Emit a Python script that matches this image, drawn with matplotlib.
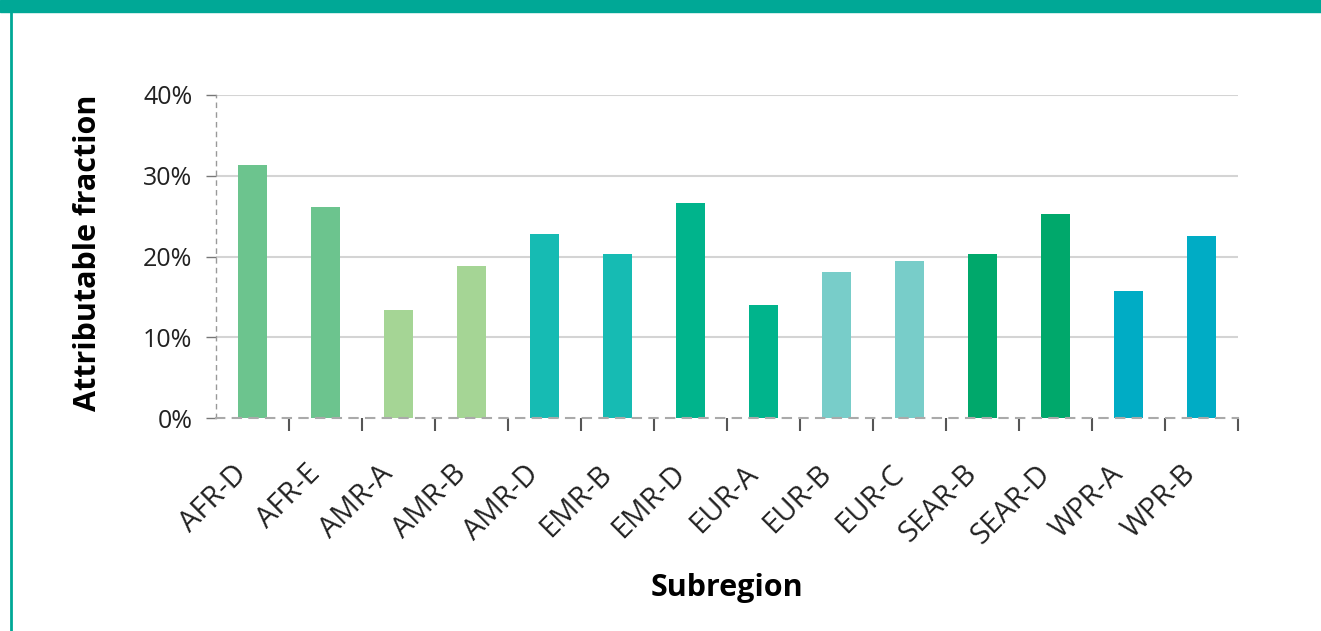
import numpy as np
import matplotlib.pyplot as plt
from matplotlib.patches import Rectangle
from matplotlib.lines import Line2D
from matplotlib.transforms import ScaledTranslation

regions = ['AFR-D', 'AFR-E', 'AMR-A', 'AMR-B', 'AMR-D', 'EMR-B', 'EMR-D',
           'EUR-A', 'EUR-B', 'EUR-C', 'SEAR-B', 'SEAR-D', 'WPR-A', 'WPR-B']
fraction = [31.3, 26.1, 13.4, 18.8, 22.8, 20.3, 26.6,
            14.0, 18.1, 19.4, 20.3, 25.3, 15.7, 22.5]
colors = ['#6cc48e', '#6cc48e', '#a5d595', '#a5d595', '#16bbb3', '#16bbb3', '#00b48c',
          '#00b48c', '#78cdc9', '#78cdc9', '#00a86b', '#00a86b', '#00acc5', '#00acc5']
yticks = [0, 10, 20, 30, 40]

plt.rcParams['font.family'] = ['Open Sans', 'DejaVu Sans']

fig = plt.figure(figsize=(13.21, 6.31), dpi=100)
# frame decoration: teal band on top and thin teal line on the left
fig.patches.append(Rectangle((0, 1 - 12/631), 1, 12/631, transform=fig.transFigure,
                             color='#00a896', zorder=0))
fig.lines.append(Line2D([10.5/1321, 10.5/1321], [0, 1 - 12/631], transform=fig.transFigure,
                        color='#00a896', lw=2))

ax = fig.add_axes([216/1321, 1 - 418/631, 1022/1321, 323/631])
x = np.arange(len(regions))
ax.bar(x, fraction, width=0.4, color=colors, zorder=3)

ax.set_xlim(-0.5, len(regions) - 0.5)
ax.set_ylim(0, 40)

for s in ['top', 'right']:
    ax.spines[s].set_visible(False)
ax.spines['left'].set_linestyle((0, (3, 4)))
ax.spines['left'].set_color('#999999')
ax.spines['left'].set_linewidth(1)
ax.spines['bottom'].set_linestyle((0, (4, 4)))
ax.spines['bottom'].set_color('#aaaaaa')
ax.spines['bottom'].set_linewidth(1.5)
ax.spines['bottom'].set_zorder(4)

for v in yticks[1:]:
    ax.axhline(v, color='#d4d4d4', lw=1.5, zorder=1)

ax.set_yticks(yticks)
ax.set_yticklabels([f'{v}%' for v in yticks], fontsize=18, color='#222222')
ax.tick_params(axis='y', length=7, width=1, color='#777777', pad=10)

ax.set_xticks(x)
ax.set_xticklabels(regions, rotation=45, ha='right', rotation_mode='anchor',
                   fontsize=21, color='#222222')
ax.tick_params(axis='x', which='major', length=0, pad=24)
shift = ScaledTranslation(-20/100, -8/100, fig.dpi_scale_trans)
for lab in ax.get_xticklabels():
    lab.set_transform(lab.get_transform() + shift)
ax.set_xticks(x + 0.5, minor=True)
ax.tick_params(axis='x', which='minor', length=9, width=1.5, color='#555555')

ax.set_ylabel('Attributable fraction', fontsize=22, fontweight='bold')
ax.yaxis.set_label_coords(-0.111, 0.51)
ax.set_xlabel('Subregion', fontsize=22, fontweight='bold')
ax.xaxis.set_label_coords(0.5, -0.48)

fig.savefig('out.png', dpi=100)
